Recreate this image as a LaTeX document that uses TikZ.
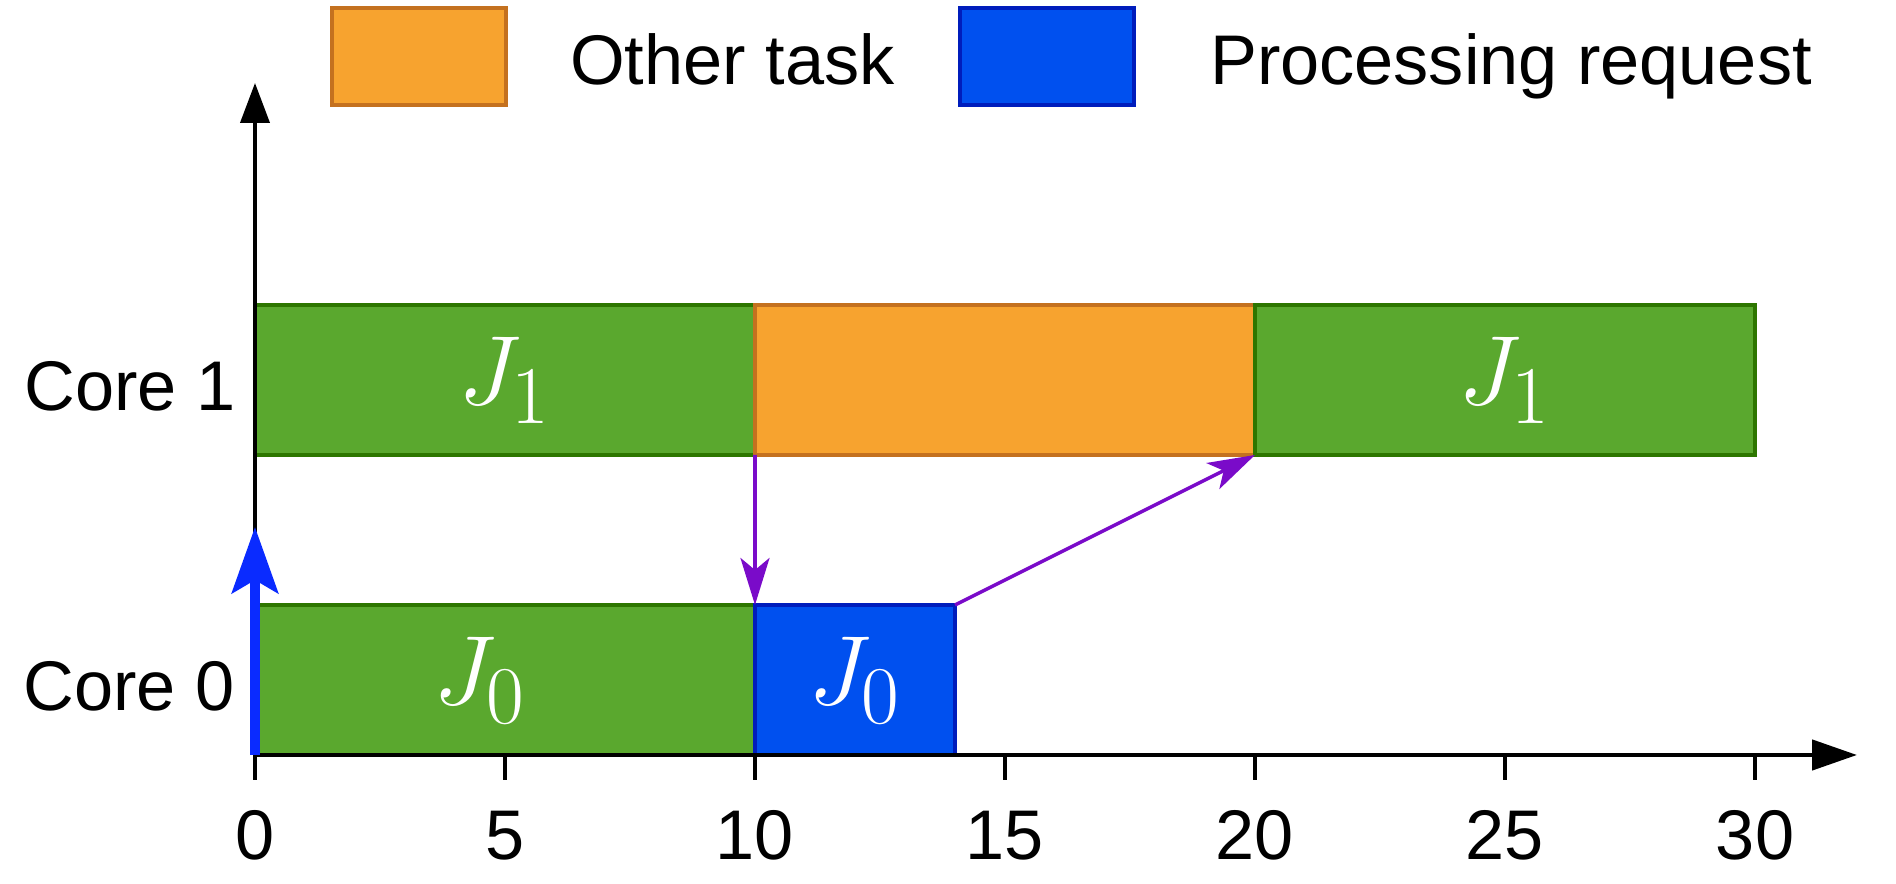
\documentclass[tikz,border=0pt]{standalone}
\usepackage[no-math]{fontspec}
\setmainfont{Liberation Sans}
\usetikzlibrary{arrows.meta}
\definecolor{jobgreen}{HTML}{5AA82E}
\definecolor{jobgreenline}{HTML}{2D7600}
\definecolor{otherorange}{HTML}{F7A32F}
\definecolor{otherorangeline}{HTML}{C4711F}
\definecolor{reqblue}{HTML}{0050EF}
\definecolor{reqblueline}{HTML}{001DBC}
\definecolor{msgpurple}{HTML}{7A0BC9}
\definecolor{arrivalblue}{HTML}{0A2BFF}
\newcommand{\job}[1]{\scalebox{1.125}{\fontsize{24.88}{30}\selectfont$J_{#1}$}}

\begin{document}
\begin{tikzpicture}[x=0.5cm,y=0.5cm,
    bar/.style={draw,line width=1.1pt,outer sep=0pt,inner sep=0pt,minimum height=1.5cm,text=white},
    jobbar/.style={bar,fill=jobgreen,draw=jobgreenline},
    otherbar/.style={bar,fill=otherorange,draw=otherorangeline},
    reqbar/.style={bar,fill=reqblue,draw=reqblueline},
    lbl/.style={font=\fontsize{20}{24}\selectfont,inner sep=0pt},
    msg/.style={draw=msgpurple,line width=1pt,-{Stealth[length=4.7mm,width=2.9mm,inset=1.2mm]}}]
  \useasboundingbox (-5.1,-2.58) rectangle (32.82,15.1);
  % legend
  \node[otherbar,minimum width=1.74cm,minimum height=0.97cm,anchor=south west] (legother) at (1.54,13.0) {};
  \node[lbl,anchor=base west] (legothertext) at (6.29,13.4) {Other task};
  \node[reqbar,minimum width=1.74cm,minimum height=0.97cm,anchor=south west] (legreq) at (14.1,13.0) {};
  \node[lbl,anchor=base west] (legreqtext) at (19.09,13.4) {Processing request};
  % core 1
  \node[jobbar,minimum width=5cm] (J1a) at (5,7.5) {\job{1}};
  \node[otherbar,minimum width=5cm] (other) at (15,7.5) {};
  \node[jobbar,minimum width=5cm] (J1b) at (25,7.5) {\job{1}};
  % core 0
  \node[jobbar,minimum width=5cm] (J0a) at (5,1.5) {\job{0}\kern0.5cm};
  \node[reqbar,minimum width=2cm] (req) at (12,1.5) {\job{0}};
  \node[lbl,anchor=base east] (core1) at (-0.38,6.88) {Core 1};
  \node[lbl,anchor=base east] (core0) at (-0.4,0.88) {Core 0};
  % axes
  \coordinate (O) at (0,0);
  \coordinate (xend) at (32.04,0);
  \coordinate (yend) at (0,13.44);
  \draw[line width=1.3pt,-{Triangle[length=4.5mm,width=3mm]}] (O) -- (xend);
  \draw[line width=1.1pt,-{Triangle[length=4mm,width=2.9mm]}] (O) -- (yend);
  \foreach \t in {0,5,...,30}{
    \draw[line width=1.3pt] (\t,0) -- (\t,-0.5);
    \node[lbl,anchor=base] (tick\t) at (\t,-2.1) {\t};
  }
  % arrival and messages
  \coordinate (arrival) at (0,4.56);
  \draw[arrivalblue,line width=2.8pt,-{Stealth[length=6.6mm,width=4.6mm,inset=1.3mm]}] (O) -- (arrival);
  \draw[msg] (other.south west) -- (req.north west);
  \draw[msg] (req.north east) -- (other.south east);
\end{tikzpicture}
\end{document}
